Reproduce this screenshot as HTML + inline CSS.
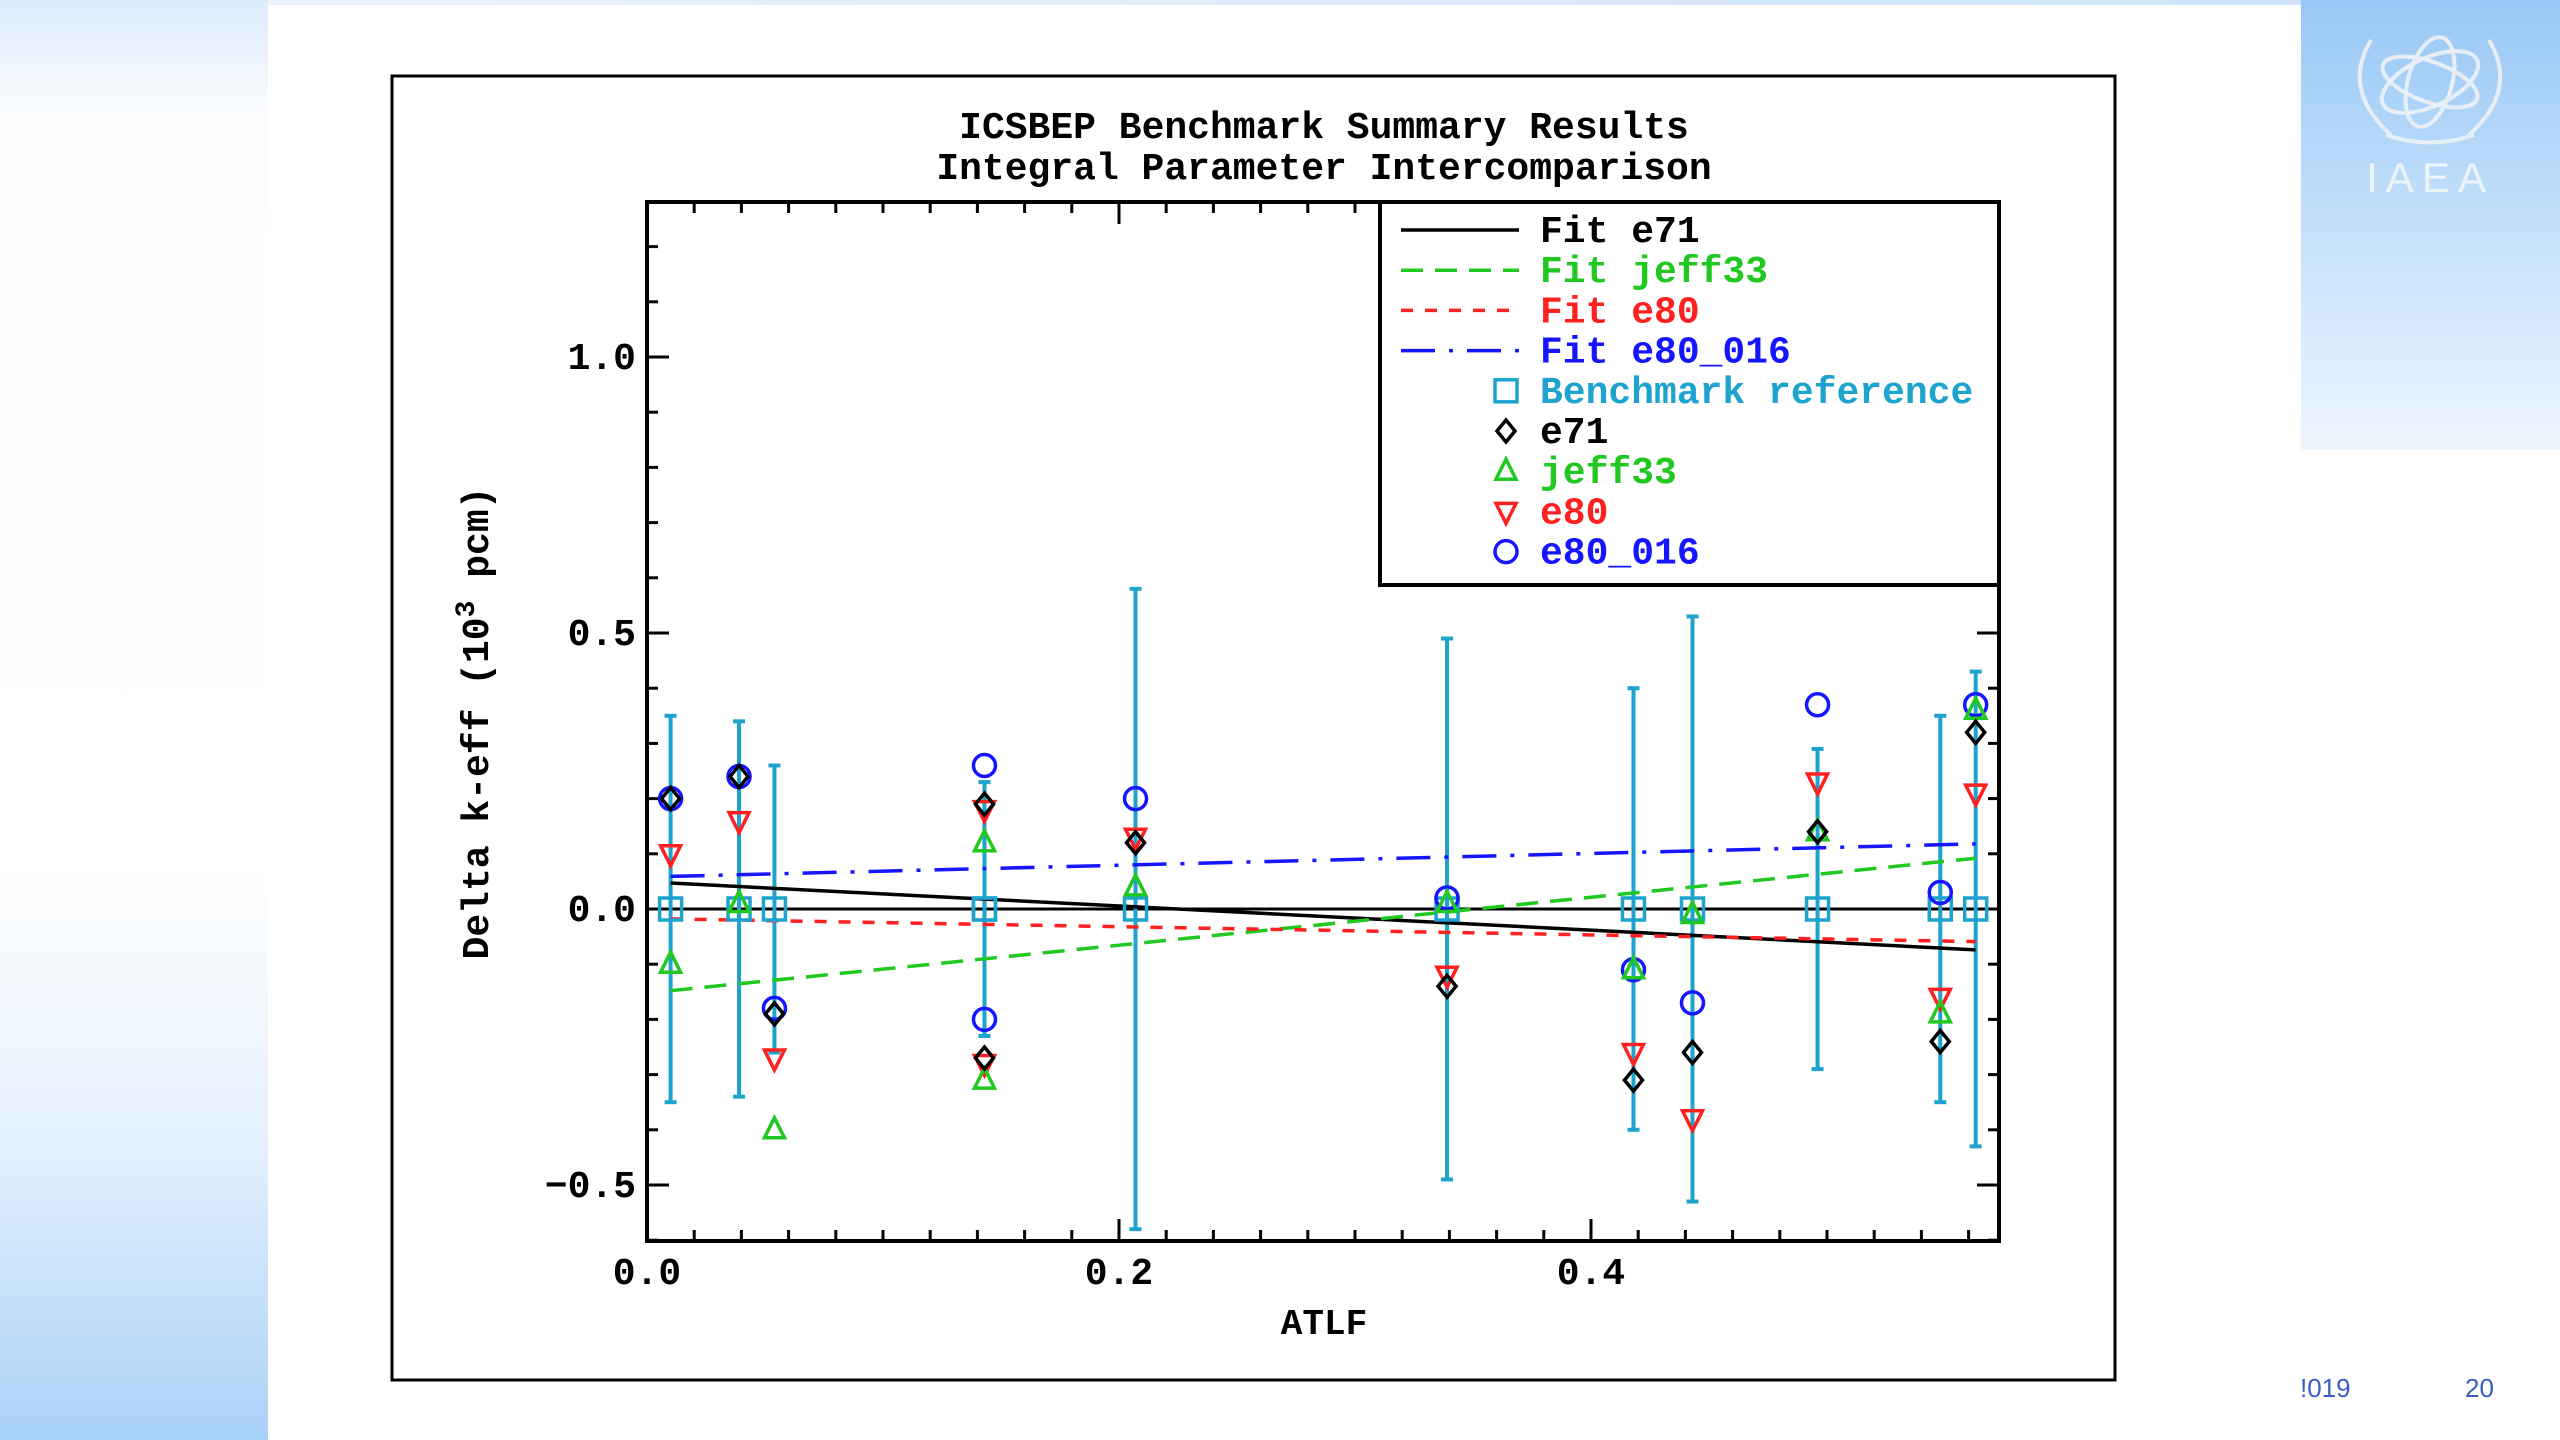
<!DOCTYPE html>
<html><head><meta charset="utf-8"><style>
html,body{margin:0;padding:0;width:2560px;height:1440px;overflow:hidden;background:#fff;font-family:"Liberation Sans",sans-serif}
#left{position:absolute;left:0;top:0;width:268px;height:1440px;background:linear-gradient(180deg,#dcebfb 0%,#fbfdff 8%,#ffffff 60%,#e3f0fd 80%,#a9d1f7 100%)}
#right{position:absolute;left:2301px;top:0;width:259px;height:450px;background:linear-gradient(180deg,#98c8f6 0%,#c4e0fb 50%,#eef6fe 100%)}
#topband{position:absolute;left:268px;top:0;width:2033px;height:5px;background:linear-gradient(90deg,#eaf3fd,#cfe4fb)}
.foot{position:absolute;top:1373px;font-size:26px;color:#3b5cc4}
</style></head><body>
<div id="left"></div>
<div id="topband"></div>
<div id="right">
<svg width="259" height="200">
<g fill="none" stroke="#e8eef5" stroke-width="4">
<ellipse cx="129" cy="82" rx="52" ry="24" transform="rotate(-25 129 82)"/>
<ellipse cx="129" cy="82" rx="22" ry="46" transform="rotate(15 129 82)"/>
<ellipse cx="129" cy="82" rx="50" ry="20" transform="rotate(20 129 82)"/>
<path d="M70 40 Q40 90 90 135"/><path d="M188 40 Q218 90 168 135"/>
<path d="M85 135 Q129 150 173 135"/>
</g>
<text x="129" y="192" text-anchor="middle" font-family="Liberation Sans" font-size="42" fill="#eef3f8" letter-spacing="8">IAEA</text>
</svg>
</div>
<div class="foot" style="left:2300px">!019</div>
<div class="foot" style="left:2465px">20</div>

<svg id="chart" width="2560" height="1440" style="position:absolute;left:0;top:0"></svg>
<script>
const xs=[0.010,0.039,0.054,0.143,0.143,0.207,0.339,0.418,0.443,0.496,0.548,0.563];
const errs=[0.35,0.34,0.26,0.23,0.23,0.58,0.49,0.40,0.53,0.29,0.35,0.43];
const e71=[0.20,0.24,-0.19,0.19,-0.27,0.12,-0.14,-0.31,-0.26,0.14,-0.24,0.32];
const jeff33=[-0.10,0.01,-0.40,0.12,-0.31,0.04,0.01,-0.11,-0.01,0.14,-0.19,0.36];
const e80=[0.10,0.16,-0.27,0.18,-0.28,0.13,-0.12,-0.26,-0.38,0.23,-0.16,0.21];
const e80016=[0.20,0.24,-0.18,0.26,-0.20,0.20,0.02,-0.11,-0.17,0.37,0.03,0.37];
const fitX=[0.010,0.563];
const fitE71=[0.047,-0.074];
const fitJeff=[-0.148,0.092];
const fitE80=[-0.018,-0.059];
const fitE016=[0.059,0.118];
const xTicks=[0.0,0.2,0.4];
const yTicks=[-0.5,0.0,0.5,1.0];
const xTickLabels=["0.0","0.2","0.4"];
const yTickLabels=["\u22120.5","0.0","0.5","1.0"];

const L=647,R=1999,T=202,B=1241;
const sx=v=>L+v*2360;
const sy=v=>909-v*552;
const svg=document.getElementById('chart');
const NS='http://www.w3.org/2000/svg';
function mk(tag,attrs,parent){const e=document.createElementNS(NS,tag);for(const k in attrs)e.setAttribute(k,attrs[k]);(parent||svg).appendChild(e);return e;}
const F='"Liberation Mono","DejaVu Sans Mono",monospace';
const CY='#1ea3cf',GR='#20c820',RD='#ff2020',BL='#1515ff';

let el=mk('rect',{x:392,y:76,width:1723,height:1304,fill:'none',stroke:'#000','stroke-width':3});


el=mk('text',{x:1324,y:138,'text-anchor':'middle','font-family':F,'font-size':38,'font-weight':'bold'});el.textContent='ICSBEP Benchmark Summary Results';


el=mk('text',{x:1324,y:179,'text-anchor':'middle','font-family':F,'font-size':38,'font-weight':'bold'});el.textContent='Integral Parameter Intercomparison';



// ticks
const tg=mk('g',{stroke:'#000','stroke-width':3});


for(let i=0;i<=28;i++){const v=i*0.02;const x=sx(v);if(x>R)break;const len=(i%10==0)?22:11;
mk('line',{x1:x,y1:B,x2:x,y2:B-len},tg);mk('line',{x1:x,y1:T,x2:x,y2:T+len},tg);}
for(let i=-6;i<=12;i++){const v=i*0.1;const y=sy(v);if(y<T||y>B)continue;const len=(i%5==0)?22:11;
mk('line',{x1:L,y1:y,x2:L+len,y2:y},tg);mk('line',{x1:R,y1:y,x2:R-len,y2:y},tg);}
xTicks.forEach((v,i)=>{el=mk('text',{x:sx(v),y:1284,'text-anchor':'middle','font-family':F,'font-size':38,'font-weight':'bold'});el.textContent=xTickLabels[i];

});
yTicks.forEach((v,i)=>{el=mk('text',{x:636,y:sy(v)+12,'text-anchor':'end','font-family':F,'font-size':38,'font-weight':'bold'});el.textContent=yTickLabels[i];

});
el=mk('text',{x:1324,y:1334,'text-anchor':'middle','font-family':F,'font-size':36,'font-weight':'bold'});el.textContent='ATLF';


el=mk('text',{x:0,y:0,'text-anchor':'middle','font-family':F,'font-size':38,'font-weight':'bold',transform:'translate(488,723) rotate(-90)'});
el.innerHTML='Delta k-eff (10<tspan dy="-14" font-size="28">3</tspan><tspan dy="14"> pcm)</tspan>';



// zero reference line
el=mk('line',{x1:sx(xs[0]),y1:sy(0),x2:R,y2:sy(0),stroke:'#000','stroke-width':3});



// error bars
xs.forEach((x,i)=>{const g=mk('g',{stroke:CY,'stroke-width':4});


mk('line',{x1:sx(x),y1:sy(errs[i]),x2:sx(x),y2:sy(-errs[i])},g);
mk('line',{x1:sx(x)-6,y1:sy(errs[i]),x2:sx(x)+6,y2:sy(errs[i])},g);
mk('line',{x1:sx(x)-6,y1:sy(-errs[i]),x2:sx(x)+6,y2:sy(-errs[i])},g);});

// fit lines
function fit(vals,col,dash,name){el=mk('line',{x1:sx(fitX[0]),y1:sy(vals[0]),x2:sx(fitX[1]),y2:sy(vals[1]),stroke:col,'stroke-width':3.5,'stroke-dasharray':dash});

}
fit(fitE71,'#000','none','fit-e71-line');
fit(fitJeff,GR,'22 12','fit-jeff33-line');
fit(fitE80,RD,'12 12','fit-e80-line');
fit(fitE016,BL,'34 14 4 14','fit-e80-016-line');

// markers
function square(x,y,p){return mk('rect',{x:x-11,y:y-11,width:22,height:22,fill:'none',stroke:CY,'stroke-width':3.5},p);}
function diamond(x,y,p){return mk('polygon',{points:`${x},${y-11} ${x+9},${y} ${x},${y+11} ${x-9},${y}`,fill:'none',stroke:'#000','stroke-width':3.5},p);}
function triUp(x,y,p){return mk('polygon',{points:`${x},${y-12} ${x+10},${y+8} ${x-10},${y+8}`,fill:'none',stroke:GR,'stroke-width':3.5},p);}
function triDn(x,y,p){return mk('polygon',{points:`${x},${y+12} ${x+10},${y-8} ${x-10},${y-8}`,fill:'none',stroke:RD,'stroke-width':3.5},p);}
function circ(x,y,p){return mk('circle',{cx:x,cy:y,r:11,fill:'none',stroke:BL,'stroke-width':3.5},p);}
xs.forEach((x,i)=>{el=square(sx(x),sy(0));});
xs.forEach((x,i)=>{el=circ(sx(x),sy(e80016[i]));});
xs.forEach((x,i)=>{el=triDn(sx(x),sy(e80[i]));});
xs.forEach((x,i)=>{el=triUp(sx(x),sy(jeff33[i]));});
xs.forEach((x,i)=>{el=diamond(sx(x),sy(e71[i]));});

// plot frame
el=mk('rect',{x:L,y:T,width:R-L,height:B-T,fill:'none',stroke:'#000','stroke-width':4});



// legend
const lg=mk('g',{});


mk('rect',{x:1380,y:202,width:619,height:383,fill:'#fff',stroke:'#000','stroke-width':4},lg);
const legNames=['Fit e71','Fit jeff33','Fit e80','Fit e80_016','Benchmark reference','e71','jeff33','e80','e80_016'];
const legCols=['#000',GR,RD,BL,CY,'#000',GR,RD,BL];
const legDash=['none','22 12','12 12','34 14 4 14'];
legNames.forEach((n,i)=>{const y=230+i*40.2;
if(i<4){el=mk('line',{x1:1401,y1:y,x2:1519,y2:y,stroke:legCols[i],'stroke-width':3.5,'stroke-dasharray':legDash[i]},lg);}
else{const fns=[square,diamond,triUp,triDn,circ];el=fns[i-4](1506,y,lg);}


el=mk('text',{x:1540,y:y+12,'font-family':F,'font-size':38,'font-weight':'bold',fill:legCols[i]},lg);el.textContent=n;

});
</script>
</body></html>
